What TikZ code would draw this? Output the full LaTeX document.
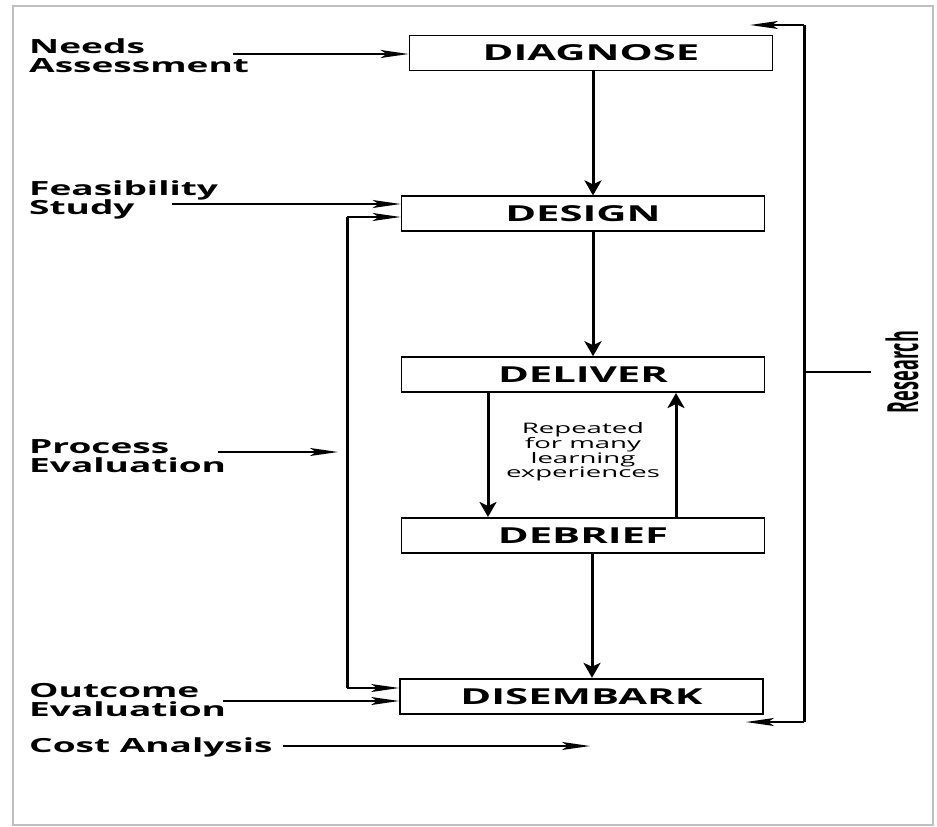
\documentclass[tikz,border=0pt]{standalone}
\usepackage{fontspec}
\usetikzlibrary{arrows.meta,positioning}
\newfontfamily\labelfont[FakeStretch=1.9]{Open Sans}
\newfontfamily\resfont[FakeStretch=0.42]{Open Sans}

\begin{document}
\begin{tikzpicture}[x=1pt, y=-1pt,
  stage/.style={draw, line width=1.8pt, minimum width=363pt,
                minimum height=35pt, inner sep=0pt,
                font=\labelfont\bfseries\fontsize{22}{22}\selectfont},
  lbl/.style={anchor=north west, align=left, inner sep=0pt,
              font=\labelfont\bfseries\fontsize{19.5}{19.5}\selectfont},
  note/.style={align=center, inner sep=0pt,
               font=\labelfont\fontsize{14.5}{14.8}\selectfont},
  resnode/.style={rotate=90, inner sep=0pt,
                  font=\resfont\bfseries\fontsize{43}{43}\selectfont},
  down/.style={-{Stealth[length=15pt, width=17pt, inset=4pt]}, line width=3pt},
  feed/.style={-{Stealth[length=28pt, width=8pt, inset=6pt]}, line width=1.6pt},
  bar/.style={line width=3pt},
  frame/.style={draw=black!25, line width=2pt}]
\useasboundingbox (0,0) rectangle (937,827);
\draw[frame] (13,6) rectangle (933,825);

% the five stages
\node[stage] (diagnose) at (591,53) {DIAGNOSE};
\node[stage, below=124pt of diagnose, xshift=-8pt] (design) {DESIGN};
\node[stage, below=124pt of design] (deliver) {DELIVER};
\node[stage, below=124pt of deliver] (debrief) {DEBRIEF};
\node[stage, below=124pt of debrief, xshift=-1.5pt] (disembark) {DISEMBARK};
\node[note] (repeat) at (583,452) {Repeated\\for many\\learning\\experiences};

\draw[down] ([xshift=2pt]diagnose.south) -- ([xshift=2pt]diagnose.south |- design.north);
\draw[down] ([xshift=10pt]design.south) -- ([xshift=10pt]design.south |- deliver.north);
\draw[down] ([xshift=-95pt]deliver.south) -- ([xshift=-95pt]deliver.south |- debrief.north);
\draw[down] ([xshift=93pt]debrief.north) -- ([xshift=93pt]debrief.north |- deliver.south);
\draw[down] ([xshift=9pt]debrief.south) -- ([xshift=9pt]debrief.south |- disembark.north);

% evaluation labels
\node[lbl] (needs) at (29,38) {Needs\\Assessment};
\node[lbl] (feas) at (29,180) {Feasibility\\Study};
\node[lbl] (process) at (29,439) {Process\\Evaluation};
\node[lbl] (outcome) at (29,683) {Outcome\\Evaluation};
\node[lbl] (cost) at (29,737) {Cost Analysis};

\coordinate (needs-out) at (233,54);
\coordinate (feas-out) at (172,204);
\coordinate (process-out) at (218,452);
\coordinate (outcome-out) at (223,701);
\coordinate (cost-out) at (283,746);
\coordinate (cost-end) at (590,746);
\draw[feed] (needs-out) -- (needs-out -| diagnose.west);
\draw[feed] (feas-out) -- (feas-out -| design.west);
\draw[feed] (outcome-out) -- (outcome-out -| disembark.west);
\draw[feed] (cost-out) -- (cost-end);

% left loop
\coordinate (lbar-top) at (347,217);
\coordinate (lbar-bot) at (347,688);
\draw[bar] (lbar-top) -- (lbar-bot);
\draw[feed] (lbar-top) -- (lbar-top -| design.west);
\draw[feed] (lbar-bot) -- (lbar-bot -| disembark.west);
\draw[feed] (process-out) -- ([xshift=-9pt]process-out -| lbar-top);

% research loop
\coordinate (rbar-top) at (804,25);
\coordinate (rbar-bot) at (804,722);
\coordinate (fb-top) at (750,25);
\coordinate (fb-bot) at (746,722);
\draw[bar] (rbar-top) -- (rbar-bot);
\draw[feed] (rbar-top) -- (fb-top);
\draw[feed] (rbar-bot) -- (fb-bot);
\node[resnode] (research) at (902,372) {Research};
\draw[line width=1.2pt] (rbar-top |- research) -- ([xshift=-14pt]research.north);
\end{tikzpicture}
\end{document}
